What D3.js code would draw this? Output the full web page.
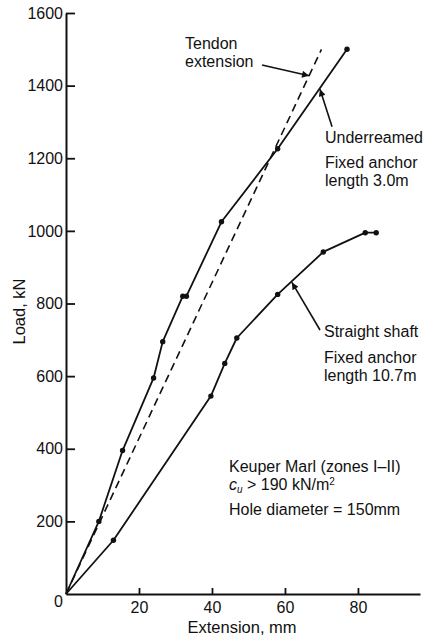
<!DOCTYPE html>
<html>
<head>
<meta charset="utf-8">
<script src="https://cdn.jsdelivr.net/npm/d3@7/dist/d3.min.js"></script>
<style>
  html, body { margin: 0; padding: 0; background: #fff; }
  svg { display: block; font-family: "Liberation Sans", Arial, Helvetica, sans-serif; }
</style>
</head>
<body>
<svg id="chart" width="430" height="639"></svg>
<script>
// Load–extension curves for ground anchors in Keuper Marl
const underreamedExt  = [0, 9, 15.5, 24, 26.5, 32, 33, 42.6, 58, 77];
const underreamedLoad = [0, 200, 395, 595, 695, 820, 820, 1025, 1226, 1500];

const straightExt  = [0, 13, 39.7, 43.5, 46.8, 58, 70.5, 82, 85];
const straightLoad = [0, 148, 545, 635, 705, 825, 942, 995, 995];

// theoretical free tendon extension
const tendonExt  = [0, 70];
const tendonLoad = [0, 1500];

const xTicks = [20, 40, 60, 80];
const yTicks = [0, 200, 400, 600, 800, 1000, 1200, 1400, 1600];

const svg = d3.select("#chart");
const ink = "#111";

const x = d3.scaleLinear().domain([0, 97]).range([66, 420]);
const y = d3.scaleLinear().domain([0, 1600]).range([594, 13]);

// arrowhead marker
svg.append("defs").append("marker")
  .attr("id", "arrow")
  .attr("viewBox", "0 0 10 10")
  .attr("refX", 10).attr("refY", 5)
  .attr("markerWidth", 9).attr("markerHeight", 7)
  .attr("markerUnits", "userSpaceOnUse")
  .attr("orient", "auto")
  .append("path").attr("d", "M0,0 L10,5 L0,10 Z").attr("fill", ink);

// axes
const yAxis = svg.append("g")
  .attr("transform", `translate(${x(0)},0)`)
  .call(d3.axisLeft(y).tickValues(yTicks).tickFormat(d3.format("d"))
    .tickSize(-9).tickSizeOuter(0).tickPadding(3));
const xAxis = svg.append("g")
  .attr("transform", `translate(0,${y(0)})`)
  .call(d3.axisBottom(x).tickValues(xTicks).tickFormat(d3.format("d"))
    .tickSize(-6).tickSizeOuter(0).tickPadding(8));

[yAxis, xAxis].forEach(g => {
  g.selectAll("path.domain").attr("stroke", ink).attr("stroke-width", 2);
  g.selectAll(".tick line").attr("stroke", ink).attr("stroke-width", 1.8);
  g.selectAll(".tick text").attr("fill", ink).attr("font-size", 16)
    .attr("font-family", "Liberation Sans, Arial, sans-serif");
});
yAxis.selectAll(".tick").filter(d => d === 0).select("text").attr("dy", "0.78em");
yAxis.selectAll(".tick").filter(d => d === 0).select("line").remove();

// axis titles
svg.append("text")
  .attr("transform", `translate(25,${(y(0) + y(1600)) / 2 + 8}) rotate(-90)`)
  .attr("text-anchor", "middle").attr("font-size", 16.5).attr("fill", ink)
  .text("Load, kN");
svg.append("text")
  .attr("x", 242).attr("y", 633)
  .attr("text-anchor", "middle").attr("font-size", 16.5).attr("fill", ink)
  .text("Extension, mm");

const line = d3.line().x(d => x(d[0])).y(d => y(d[1]));
const zip = (a, b) => a.map((v, i) => [v, b[i]]);

// tendon extension (dashed)
svg.append("path")
  .datum(zip(tendonExt, tendonLoad))
  .attr("d", line)
  .attr("fill", "none").attr("stroke", ink).attr("stroke-width", 1.6)
  .attr("stroke-dasharray", "8,5");

// measured curves
[[underreamedExt, underreamedLoad], [straightExt, straightLoad]].forEach(([ex, ld]) => {
  const pts = zip(ex, ld);
  svg.append("path")
    .datum(pts)
    .attr("d", line)
    .attr("fill", "none").attr("stroke", ink).attr("stroke-width", 1.8)
    .attr("stroke-linejoin", "round");
  svg.append("g").selectAll("circle")
    .data(pts.slice(1))
    .join("circle")
    .attr("cx", d => x(d[0])).attr("cy", d => y(d[1]))
    .attr("r", 2.7).attr("fill", ink);
});

// leader arrows (extension mm, load kN)
const arrows = [
  { from: [53.7, 1457], to: [66.6, 1427] },
  { from: [72.9, 1287], to: [69.6, 1390] },
  { from: [69.6, 727],  to: [61.9, 858] }
];
svg.append("g").selectAll("line")
  .data(arrows)
  .join("line")
  .attr("x1", d => x(d.from[0])).attr("y1", d => y(d.from[1]))
  .attr("x2", d => x(d.to[0])).attr("y2", d => y(d.to[1]))
  .attr("stroke", ink).attr("stroke-width", 1.6)
  .attr("marker-end", "url(#arrow)");

// annotation text blocks
const fs = 16;
function block(px, lines) {
  const t = svg.append("text").attr("font-size", fs).attr("fill", ink);
  lines.forEach(([txt, py]) => {
    t.append("tspan").attr("x", px).attr("y", py).text(txt);
  });
  return t;
}
block(185, [["Tendon", 49], ["extension", 67]]);
block(325, [["Underreamed", 143], ["Fixed anchor", 168], ["length 3.0m", 186]]);
block(324, [["Straight shaft", 337], ["Fixed anchor", 363], ["length 10.7m", 381]]);

const nfs = 16;
svg.append("text").attr("x", 229).attr("y", 472).attr("font-size", nfs).attr("fill", ink)
  .text("Keuper Marl (zones I\u2013II)");
const cu = svg.append("text").attr("x", 229).attr("y", 490).attr("font-size", nfs).attr("fill", ink);
cu.append("tspan").attr("font-style", "italic").text("c");
cu.append("tspan").attr("font-style", "italic").attr("font-size", 10).attr("dy", 3).text("u");
cu.append("tspan").attr("dy", -3).text(" > 190 kN/m");
cu.append("tspan").attr("font-size", 10).attr("dy", -5).text("2");
svg.append("text").attr("x", 229).attr("y", 515).attr("font-size", nfs).attr("fill", ink)
  .text("Hole diameter = 150mm");
</script>
</body>
</html>
